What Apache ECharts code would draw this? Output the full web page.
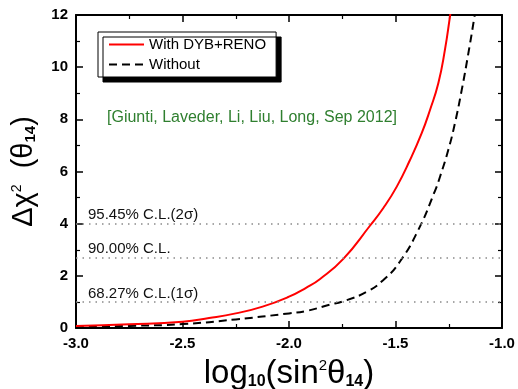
<!DOCTYPE html>
<html>
<head>
<meta charset="utf-8">
<script src="https://cdn.jsdelivr.net/npm/echarts@6/dist/echarts.min.js"></script>
<style>
  html, body { margin: 0; padding: 0; background: #fff; }
  #chart { width: 518px; height: 389px; }
</style>
</head>
<body>
<div id="chart"></div>
<script>
// Δχ² profile versus log10(sin²θ14)
const redX = [-3.0, -2.75, -2.5, -2.375, -2.25, -2.124, -2.0, -1.92, -1.854, -1.745, -1.62, -1.557, -1.494, -1.432, -1.377, -1.338, -1.299, -1.268, -1.244, -1.235];
const redY = [0.08, 0.14, 0.24, 0.38, 0.56, 0.82, 1.20, 1.54, 1.88, 2.65, 3.92, 4.60, 5.42, 6.44, 7.47, 8.36, 9.38, 10.66, 11.96, 12.5];

const blackX = [-3.0, -2.75, -2.5, -2.25, -2.0, -1.92, -1.823, -1.729, -1.635, -1.557, -1.479, -1.393, -1.315, -1.291, -1.252, -1.221, -1.189, -1.158, -1.130, -1.12];
const blackY = [0.03, 0.08, 0.15, 0.33, 0.56, 0.65, 0.86, 1.07, 1.39, 1.84, 2.55, 3.76, 5.25, 5.80, 6.83, 7.85, 9.13, 10.53, 11.91, 12.5];

// confidence-level reference lines
const clLevels = [4.0, 2.71, 1.0];
const clNames = ['95.45% C.L.(2σ)', '90.00% C.L.', '68.27% C.L.(1σ)'];

const seriesNames = ['With DYB+RENO', 'Without'];
const xTicks = { min: -3.0, max: -1.0, step: 0.5 };
const yTicks = { min: 0, max: 12, step: 2 };
const credit = '[Giunti, Laveder, Li, Liu, Long, Sep 2012]';

const pairs = (xs, ys) => xs.map((x, i) => [x, ys[i]]);

const FONT = 'Liberation Sans, Arial, sans-serif';
const frameLine = { show: true, onZero: false, lineStyle: { color: '#000', width: 2 } };
const tick = { show: true, inside: true, length: 7, lineStyle: { color: '#000', width: 1.5 } };
const minor = { show: true, splitNumber: 2, length: 4, lineStyle: { color: '#000', width: 1.2 } };
const tickFont = { color: '#000', fontSize: 15, fontWeight: 'bold', fontFamily: FONT };

const chart = echarts.init(document.getElementById('chart'), null, { renderer: 'canvas' });

chart.setOption({
  animation: false,
  backgroundColor: '#fff',
  grid: { left: 76, right: 16, top: 15, bottom: 61, containLabel: false, outerBoundsMode: 'none' },
  legend: {
    left: 98, top: 32,
    orient: 'vertical',
    itemWidth: 35, itemHeight: 14, itemGap: 5,
    padding: [5, 10, 5, 10],
    backgroundColor: '#fff',
    borderColor: '#000', borderWidth: 1,
    shadowColor: '#000', shadowBlur: 0, shadowOffsetX: 5, shadowOffsetY: 5,
    itemStyle: { opacity: 0 },
    textStyle: { color: '#000', fontSize: 15, fontFamily: FONT },
    data: seriesNames
  },
  graphic: [{
    type: 'text', left: 107, top: 110, silent: true,
    style: { text: credit, fill: '#2f7f2f', font: '16px "Liberation Sans", Arial, sans-serif' }
  }],
  xAxis: [{
    type: 'value', position: 'bottom',
    min: xTicks.min, max: xTicks.max, interval: xTicks.step,
    axisLine: frameLine, axisTick: tick, minorTick: minor,
    splitLine: { show: false },
    axisLabel: Object.assign({ margin: 8, formatter: v => v.toFixed(1) }, tickFont),
    name: '{m|log}{s|10}{m|(sin}{p|2}{m|θ}{s|14}{m|)}',
    nameLocation: 'middle', nameGap: 28,
    nameTextStyle: {
      rich: {
        m: { fontSize: 33, lineHeight: 36, verticalAlign: 'middle', color: '#000', fontFamily: FONT },
        s: { fontSize: 16, lineHeight: 16, verticalAlign: 'bottom', color: '#000', fontWeight: 'bold', fontFamily: FONT, padding: [0, 0, 2, 0] },
        p: { fontSize: 15, lineHeight: 15, verticalAlign: 'top', color: '#000', fontFamily: FONT, padding: [2, 0, 0, 0] }
      }
    }
  }, {
    type: 'value', position: 'top',
    min: xTicks.min, max: xTicks.max, interval: xTicks.step,
    axisLine: frameLine, axisTick: tick, minorTick: minor,
    splitLine: { show: false }, axisLabel: { show: false }
  }],
  yAxis: [{
    type: 'value', position: 'left',
    min: yTicks.min, max: yTicks.max, interval: yTicks.step,
    axisLine: frameLine, axisTick: tick, minorTick: minor,
    splitLine: { show: false },
    axisLabel: Object.assign({ margin: 8 }, tickFont),
    name: '{m|Δχ}{p|2}{m|  (θ}{s|14}{m|)}',
    nameLocation: 'middle', nameGap: 36, nameRotate: 90,
    nameTextStyle: {
      rich: {
        m: { fontSize: 29, lineHeight: 32, verticalAlign: 'middle', color: '#000', fontFamily: FONT },
        s: { fontSize: 15, lineHeight: 15, verticalAlign: 'bottom', color: '#000', fontWeight: 'bold', fontFamily: FONT, padding: [0, 0, 2, 0] },
        p: { fontSize: 14, lineHeight: 14, verticalAlign: 'top', color: '#000', fontFamily: FONT, padding: [2, 0, 0, 0] }
      }
    }
  }, {
    type: 'value', position: 'right',
    min: yTicks.min, max: yTicks.max, interval: yTicks.step,
    axisLine: frameLine, axisTick: tick, minorTick: minor,
    splitLine: { show: false }, axisLabel: { show: false }
  }],
  series: [{
    name: seriesNames[0], type: 'line',
    data: pairs(redX, redY),
    smooth: 0.5, symbol: 'none', clip: true,
    itemStyle: { color: '#ff0000' },
    lineStyle: { color: '#ff0000', width: 2 },
    z: 3,
    markLine: {
      silent: true, symbol: 'none',
      lineStyle: { color: '#8a8a8a', width: 1.5, type: [1.5, 5] },
      label: {
        show: true, position: 'insideStartTop', distance: [12, 1],
        formatter: '{b}', color: '#111', fontSize: 15, fontFamily: FONT
      },
      data: clLevels.map((v, i) => ({ yAxis: v, name: clNames[i] }))
    }
  }, {
    name: seriesNames[1], type: 'line',
    data: pairs(blackX, blackY),
    smooth: 0.5, symbol: 'none', clip: true,
    itemStyle: { color: '#000' },
    lineStyle: { color: '#000', width: 2, type: [8, 5] },
    z: 2
  }]
});
</script>
</body>
</html>
